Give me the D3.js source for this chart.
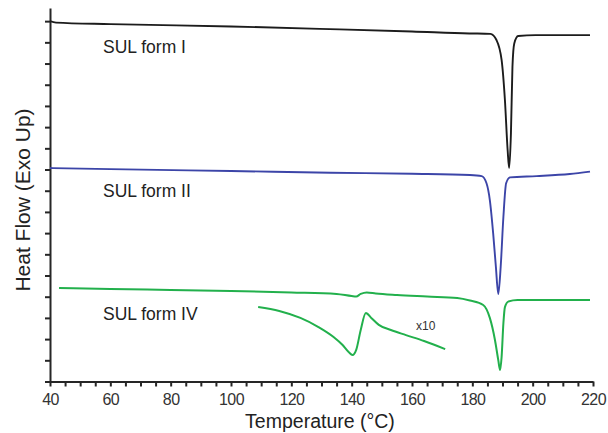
<!DOCTYPE html>
<html><head><meta charset="utf-8">
<script src="https://cdn.jsdelivr.net/npm/d3@7"></script>
<style>body{margin:0;background:#fff}svg{display:block}</style>
</head><body>
<svg id="chart" width="608" height="433"></svg>
<script>
// ---- data (Temperature °C, heat flow in arbitrary tick units) ----
const tempI = [40,42,60,100,136,160,179,186,188,189.7,190.8,191.7,192.2,192.8,193.3,193.9,195.2,201,219];
const heatI = [17.0,16.93,16.86,16.75,16.61,16.51,16.42,16.40,16.11,15.17,13.28,10.92,10.07,11.72,14.85,15.95,16.30,16.34,16.34];

const tempII = [40,60,100,133,160,179.2,183.1,184.7,185.8,186.9,187.8,188.6,189.4,190.3,191.2,192.5,201.3,212.3,219];
const heatII = [10.07,10.02,9.93,9.85,9.80,9.74,9.69,9.35,8.56,7.00,5.42,4.13,5.42,7.77,9.35,9.63,9.69,9.79,9.90];

const tempIV = [43,60,80,100,120,135,140,141.5,143,145,148,155,165,175,179.2,183.6,185.8,187.5,188.6,189.2,189.7,190.3,190.8,191.9,195,219];
const heatIV = [4.41,4.36,4.32,4.27,4.20,4.13,4.03,4.01,4.13,4.20,4.15,4.08,4.01,3.94,3.82,3.61,3.00,1.96,1.01,0.54,1.15,2.76,3.51,3.77,3.84,3.84];

// x10 magnified inset of form IV
const tempIVx10 = [109,116,123,129,134,137,139,140.3,141.5,143,144.7,146.5,149,153,158,164,171];
const heatIVx10 = [3.51,3.33,3.00,2.57,2.10,1.72,1.39,1.25,1.49,2.43,3.23,3.00,2.67,2.43,2.19,1.91,1.53];

const seriesNames = ["SUL form I","SUL form II","SUL form IV"];
const xTickValues = d3.range(40, 221, 5);
const xTickLabels = [40,60,80,100,120,140,160,180,200,220];
const yTickValues = d3.range(0, 18, 1);
const xTitle = "Temperature (°C)";
const yTitle = "Heat Flow (Exo Up)";
const insetLabel = "x10";

// ---- drawing ----
const svg = d3.select("#chart");
const x = d3.scaleLinear().domain([40,220]).range([50,593]);
const y = d3.scaleLinear().domain([0,17.62]).range([381.5,8]);

const font = "'Liberation Sans', Arial, sans-serif";
const axisCol = "#262626";

const xAxis = d3.axisBottom(x).tickValues(xTickValues).tickSize(5).tickSizeOuter(0)
  .tickFormat(d => xTickLabels.includes(d) ? d : "");
const gx = svg.append("g").attr("transform", `translate(0,${y(0)})`).call(xAxis);
gx.select(".domain").attr("stroke", axisCol).attr("stroke-width", 2);
gx.selectAll(".tick line").attr("stroke", axisCol).attr("stroke-width", 2);
gx.selectAll(".tick text").attr("font-family", font).attr("font-size", 16)
  .attr("fill", "#333").attr("dy", "0.95em").attr("letter-spacing", "-0.6px");

const yAxis = d3.axisLeft(y).tickValues(yTickValues).tickSize(5).tickSizeOuter(0).tickFormat("");
const gy = svg.append("g").attr("transform", `translate(${x(40)},0)`).call(yAxis);
gy.select(".domain").attr("stroke", axisCol).attr("stroke-width", 2);
gy.selectAll(".tick line").attr("stroke", axisCol).attr("stroke-width", 2);

const line = d3.line().x(d => x(d[0])).y(d => y(d[1])).curve(d3.curveMonotoneX);
const zip = (a, b) => a.map((t, i) => [t, b[i]]);

const series = [
  {t: tempI, h: heatI, c: "#1c1c1c", w: 1.9},
  {t: tempII, h: heatII, c: "#3c45a8", w: 1.9},
  {t: tempIV, h: heatIV, c: "#22b04c", w: 2},
  {t: tempIVx10, h: heatIVx10, c: "#22b04c", w: 2}
];
series.forEach(s => {
  svg.append("path").attr("d", line(zip(s.t, s.h))).attr("fill", "none")
    .attr("stroke", s.c).attr("stroke-width", s.w).attr("stroke-linejoin", "round");
});

// series labels
const labelY = [53, 197, 320];
seriesNames.forEach((n, i) => {
  svg.append("text").attr("x", 103).attr("y", labelY[i]).text(n)
    .attr("font-family", font).attr("font-size", 17.5).attr("fill", "#222");
});
svg.append("text").attr("x", 416).attr("y", 330).text(insetLabel)
  .attr("font-family", font).attr("font-size", 12).attr("fill", "#333");

// axis titles
svg.append("text").attr("x", 320).attr("y", 428).attr("text-anchor", "middle").text(xTitle)
  .attr("font-family", font).attr("font-size", 19.5).attr("fill", "#222");
svg.append("text").attr("transform", "translate(30,200) rotate(-90)").attr("text-anchor", "middle").text(yTitle)
  .attr("font-family", font).attr("font-size", 21).attr("fill", "#222");
</script>
</body></html>
